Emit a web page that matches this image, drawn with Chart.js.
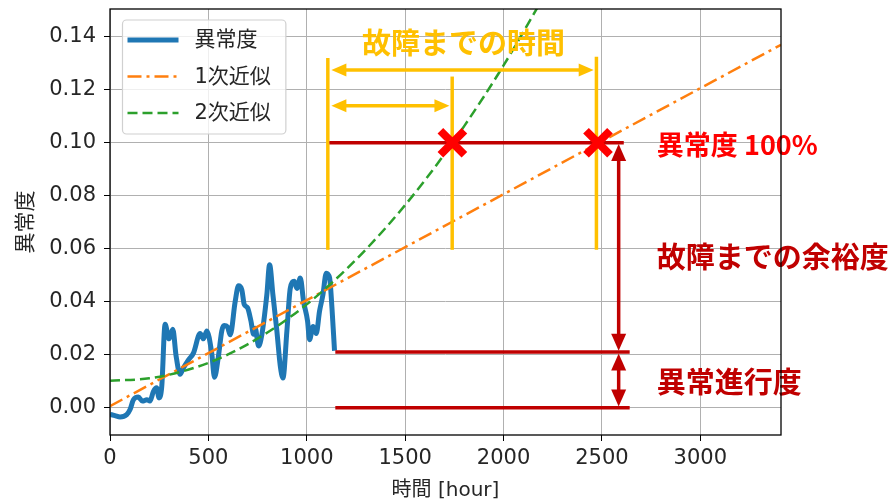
<!DOCTYPE html>
<html><head><meta charset="utf-8">
<script src="https://cdn.jsdelivr.net/npm/chart.js@4/dist/chart.umd.min.js"></script>
<style>html,body{margin:0;padding:0;background:#fff;}#wrap{width:895px;height:504px;}</style>
</head><body><div id="wrap"><canvas id="c" width="895" height="504"></canvas></div>
<script>
// ---- series data ----
const hours = [0,25,51,85,102,119,144,165,187,203,221,237,249,263,280,300,319,336,356,373,398,424,458,475,492,517,531,551,568,580,597,611,636,653,670,682,699,716,730,738,755,772,797,811,828,848,865,879,899,916,936,950,967,984,1004,1014,1032,1048,1065,1082,1099,1116,1128,1141];
const anomaly = [-0.0025,-0.003,-0.0035,-0.0026,-0.0007,0.003,0.004,0.0025,0.003,0.0025,0.0062,0.0075,0.0037,0.008,0.0315,0.026,0.0296,0.0195,0.0126,0.015,0.018,0.0206,0.028,0.026,0.029,0.0206,0.0115,0.0194,0.029,0.031,0.0305,0.0275,0.040,0.046,0.0445,0.039,0.0377,0.0328,0.0277,0.030,0.0233,0.0277,0.0426,0.054,0.0426,0.029,0.016,0.0112,0.029,0.045,0.0477,0.045,0.049,0.040,0.0327,0.0257,0.0307,0.028,0.0365,0.0426,0.0508,0.049,0.0377,0.0215];
const linFitX = [0, 3410];
const linFitY = [0.0006, 0.137];
const quadFitX = [0,200,400,600,800,1000,1200,1400,1600,1800,2000,2200];
const quadFitY = [0.0102,0.0111,0.0144,0.0201,0.0284,0.0390,0.0522,0.0678,0.0858,0.1063,0.1292,0.1546];
const seriesLabels = ['異常度', '1次近似', '2次近似'];
const xTickValues = [0,500,1000,1500,2000,2500,3000];
const yTickValues = [0,0.02,0.04,0.06,0.08,0.10,0.12,0.14];
const xRange = [0, 3410];
const yRange = [-0.0103, 0.1505];
const xTitle = '時間 [hour]';
const yTitle = '異常度';

// ---- annotation values (data units) ----
const yellowLineX = [1107, 1739, 2472];
const yellowLineTop = [0.132, 0.125, 0.1325];
const yellowLineBottom = 0.0596;
const yellowArrowY = [0.1275, 0.114];
const yellowArrowStart = 1125;
const yellowArrowEnd = [2458, 1725];
const redLineY = [0.10, 0.021, 0.0];
const redLineStart = [1115, 1145, 1145];
const redLineEnd = [2611, 2641, 2641];
const redArrowX = 2585;
const redArrowFrom = [0.0995, 0.0205];
const redArrowTo = [0.0215, 0.0005];
const failMarkerX = [1740, 2480];
const failMarkerY = 0.10;
const labelTexts = ['故障までの時間', '異常度 100%', '故障までの余裕度', '異常進行度'];
const labelX = [1796, 2779, 2779, 2779];
const labelY = [0.1377, 0.0992, 0.057, 0.0098];

// ---- styles ----
const YELLOW = '#FFC000', DARKRED = '#C00000', RED = '#FF0000';
const labelColors = [YELLOW, RED, DARKRED, DARKRED];
const labelAlign = ['center', 'left', 'left', 'left'];
const labelSize = [29, 27, 29, 29];
const TXT = '#262626';
const FONT = "'DejaVu Sans', 'Noto Sans CJK JP', sans-serif";
const JFONT = "'Noto Sans CJK JP', sans-serif";

const toXY = (xs, ys) => xs.map((v, i) => ({x: v, y: ys[i]}));

function drawArrowHead(ctx, tipX, tipY, dirX, dirY, len, half, color) {
  const n = Math.hypot(dirX, dirY); const ux = dirX / n, uy = dirY / n;
  const bx = tipX - ux * len, by = tipY - uy * len;
  ctx.beginPath();
  ctx.moveTo(tipX, tipY);
  ctx.lineTo(bx - uy * half, by + ux * half);
  ctx.lineTo(bx + uy * half, by - ux * half);
  ctx.closePath();
  ctx.fillStyle = color; ctx.fill();
}
function doubleArrow(ctx, x0, y0, x1, y1, color, lw, len, half) {
  const dx = x1 - x0, dy = y1 - y0, n = Math.hypot(dx, dy), ux = dx / n, uy = dy / n;
  ctx.strokeStyle = color; ctx.lineWidth = lw; ctx.lineCap = 'butt';
  ctx.beginPath();
  ctx.moveTo(x0 + ux * (len - 1), y0 + uy * (len - 1));
  ctx.lineTo(x1 - ux * (len - 1), y1 - uy * (len - 1));
  ctx.stroke();
  drawArrowHead(ctx, x1, y1, dx, dy, len, half, color);
  drawArrowHead(ctx, x0, y0, -dx, -dy, len, half, color);
}

const annotations = {
  id: 'annotations',
  afterDatasetsDraw(chart) {
    const {ctx, scales: {x, y}} = chart;
    const X = v => x.getPixelForValue(v), Y = v => y.getPixelForValue(v);
    ctx.save();
    // yellow vertical guide lines
    ctx.strokeStyle = YELLOW; ctx.lineWidth = 3.5; ctx.lineCap = 'butt';
    yellowLineX.forEach((xv, i) => {
      ctx.beginPath(); ctx.moveTo(X(xv), Y(yellowLineBottom)); ctx.lineTo(X(xv), Y(yellowLineTop[i])); ctx.stroke();
    });
    // yellow double arrows
    yellowArrowY.forEach((yv, i) => doubleArrow(ctx, X(yellowArrowStart), Y(yv), X(yellowArrowEnd[i]), Y(yv), YELLOW, 3.5, 15, 6.5));
    // red level lines
    ctx.strokeStyle = DARKRED; ctx.lineWidth = 3.5;
    redLineY.forEach((yv, i) => {
      ctx.beginPath(); ctx.moveTo(X(redLineStart[i]), Y(yv)); ctx.lineTo(X(redLineEnd[i]), Y(yv)); ctx.stroke();
    });
    // red vertical double arrows
    redArrowFrom.forEach((f, i) => doubleArrow(ctx, X(redArrowX), Y(f), X(redArrowX), Y(redArrowTo[i]), DARKRED, 3.5, 17, 7.5));
    // failure markers (X)
    ctx.strokeStyle = RED; ctx.lineWidth = 8; ctx.lineCap = 'butt';
    failMarkerX.forEach(xv => {
      const px = X(xv), py = Y(failMarkerY), s = 12;
      ctx.beginPath();
      ctx.moveTo(px - s, py - s); ctx.lineTo(px + s, py + s);
      ctx.moveTo(px - s, py + s); ctx.lineTo(px + s, py - s);
      ctx.stroke();
    });
    // labels
    ctx.textBaseline = 'middle';
    labelTexts.forEach((t, i) => {
      ctx.font = "bold " + labelSize[i] + "px " + JFONT;
      ctx.fillStyle = labelColors[i]; ctx.textAlign = labelAlign[i];
      ctx.fillText(t, X(labelX[i]), Y(labelY[i]));
    });
    ctx.restore();
  },
  afterDraw(chart) {
    const {ctx, chartArea: a} = chart;
    ctx.save();
    // spines
    ctx.strokeStyle = '#000'; ctx.lineWidth = 1.3;
    ctx.strokeRect(a.left, a.top, a.right - a.left, a.bottom - a.top);
    // legend box
    ctx.font = "21px " + FONT;
    const ds = chart.data.datasets;
    const tw = Math.max(...ds.map(d => ctx.measureText(d.label).width));
    const bx = a.left + 12.5, by = a.top + 11, bw = 5 + 51 + 17 + tw + 14, bh = 114;
    ctx.beginPath();
    if (ctx.roundRect) ctx.roundRect(bx, by, bw, bh, 4); else ctx.rect(bx, by, bw, bh);
    ctx.fillStyle = 'rgba(255,255,255,0.8)'; ctx.fill();
    ctx.strokeStyle = '#d0d0d0'; ctx.lineWidth = 1.2; ctx.stroke();
    ds.forEach((d, i) => {
      const ry = by + 20 + i * 36.5;
      ctx.strokeStyle = d.borderColor; ctx.lineWidth = d.borderWidth;
      ctx.setLineDash(d.borderDash || []); ctx.lineCap = 'butt';
      ctx.beginPath(); ctx.moveTo(bx + 5, ry); ctx.lineTo(bx + 56, ry); ctx.stroke();
      ctx.setLineDash([]);
      ctx.fillStyle = TXT; ctx.textAlign = 'left'; ctx.textBaseline = 'middle';
      ctx.fillText(d.label, bx + 72, ry + 1);
    });
    ctx.restore();
  }
};

const noPad = s => { s.paddingTop = 0; s.paddingBottom = 0; s.paddingLeft = 0; s.paddingRight = 0; };

new Chart(document.getElementById('c'), {
  type: 'line',
  data: {
    datasets: [
      {label: seriesLabels[0], data: toXY(hours, anomaly), borderColor: '#1f77b4', borderWidth: 5,
       cubicInterpolationMode: 'monotone', pointRadius: 0, order: 3, borderJoinStyle: 'round'},
      {label: seriesLabels[1], data: toXY(linFitX, linFitY), borderColor: '#ff7f0e', borderWidth: 2.5,
       borderDash: [14, 5, 3, 5], pointRadius: 0, order: 2},
      {label: seriesLabels[2], data: toXY(quadFitX, quadFitY), borderColor: '#2ca02c', borderWidth: 2.5,
       borderDash: [10, 5], cubicInterpolationMode: 'monotone', pointRadius: 0, order: 1}
    ]
  },
  options: {
    responsive: false, animation: false, devicePixelRatio: 1,
    layout: {padding: {left: 0, right: 114, top: 9, bottom: 0}},
    plugins: {legend: {display: false}, tooltip: {enabled: false}},
    scales: {
      x: {
        type: 'linear', min: xRange[0], max: xRange[1],
        afterFit: s => { s.height = 69; noPad(s); },
        afterBuildTicks: s => { s.ticks = xTickValues.map(v => ({value: v})); },
        grid: {color: '#b0b0b0', lineWidth: 1, tickColor: '#000', tickLength: 6, drawTicks: true},
        border: {display: false},
        ticks: {font: {family: FONT, size: 21}, color: TXT, padding: 5, maxRotation: 0, autoSkip: false,
                callback: v => String(v)},
        title: {display: true, text: xTitle, font: {family: FONT, size: 20}, color: TXT, padding: {top: 0, bottom: 1}}
      },
      y: {
        type: 'linear', min: yRange[0], max: yRange[1],
        afterFit: s => { s.width = 110; noPad(s); },
        afterBuildTicks: s => { s.ticks = yTickValues.map(v => ({value: v})); },
        grid: {color: '#b0b0b0', lineWidth: 1, tickColor: '#000', tickLength: 6, drawTicks: true},
        border: {display: false},
        ticks: {font: {family: FONT, size: 21}, color: TXT, padding: 8, autoSkip: false,
                callback: v => Number(v).toFixed(2)},
        title: {display: true, text: yTitle, font: {family: JFONT, size: 21}, color: TXT, padding: {top: 11, bottom: 0}}
      }
    }
  },
  plugins: [annotations]
});
</script></body></html>
